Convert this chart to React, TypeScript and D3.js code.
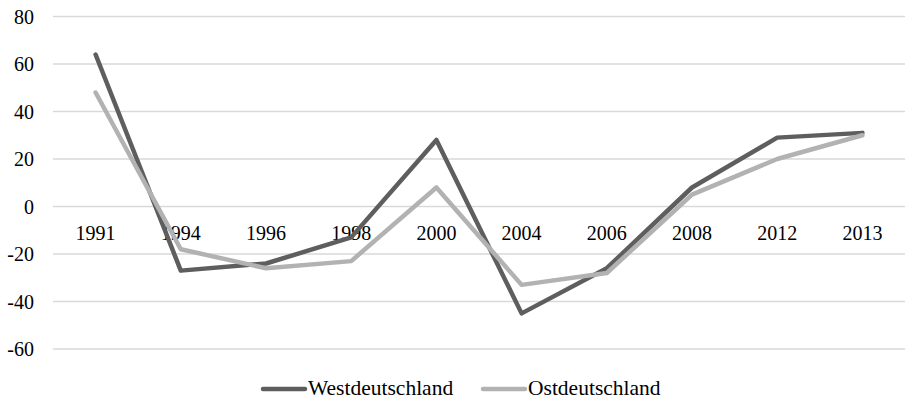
import React from "react";
import * as d3 from "d3";

const years = ["1991", "1994", "1996", "1998", "2000", "2004", "2006", "2008", "2012", "2013"];
const west = [64, -27, -24, -13, 28, -45, -26, 8, 29, 31];
const east = [48, -18, -26, -23, 8, -33, -28, 5, 20, 30];
const yTicks = [-60, -40, -20, 0, 20, 40, 60, 80];

const W = 905;
const H = 400;
const font = "'Liberation Serif', 'Times New Roman', serif";

export default function App() {
  // scales
  const x = d3.scaleBand().domain(years).range([53, 905]);
  const y = d3.scaleLinear().domain([-60, 80]).range([349, 16.5]);

  const line = d3
    .line<number>()
    .x((_, i) => x(years[i])! + x.bandwidth() / 2)
    .y((d) => y(d));

  const series = [
    { name: "Westdeutschland", values: west, color: "#5e5e5e" },
    { name: "Ostdeutschland", values: east, color: "#b2b2b2" },
  ];

  const legendX = [263, 483];
  const legendY = 389;

  return (
    <svg
      width={W}
      height={H}
      style={{ position: "absolute", left: 0, top: 0, background: "#fff" }}
      fontFamily={font}
    >
      {/* grid + y labels */}
      {yTicks.map((t) => (
        <g key={t}>
          <line x1={53} x2={905} y1={y(t)} y2={y(t)} stroke="#d9d9d9" strokeWidth={1.5} />
          <text x={34} y={y(t)} dy="0.35em" textAnchor="end" fontSize={20} fill="#000">
            {t}
          </text>
        </g>
      ))}

      {/* x labels sit below the zero line */}
      {years.map((yr) => (
        <text
          key={yr}
          x={x(yr)! + x.bandwidth() / 2}
          y={y(0) + 33}
          textAnchor="middle"
          fontSize={20}
          fill="#000"
        >
          {yr}
        </text>
      ))}

      {series.map((s) => (
        <path
          key={s.name}
          d={line(s.values)!}
          fill="none"
          stroke={s.color}
          strokeWidth={4.5}
          strokeLinejoin="round"
          strokeLinecap="round"
        />
      ))}

      {/* legend */}
      {series.map((s, i) => (
        <g key={s.name}>
          <line
            x1={legendX[i]}
            x2={legendX[i] + 42}
            y1={legendY}
            y2={legendY}
            stroke={s.color}
            strokeWidth={4.5}
            strokeLinecap="round"
          />
          <text x={legendX[i] + 45} y={395} fontSize={21.5} fill="#000">
            {s.name}
          </text>
        </g>
      ))}
    </svg>
  );
}
